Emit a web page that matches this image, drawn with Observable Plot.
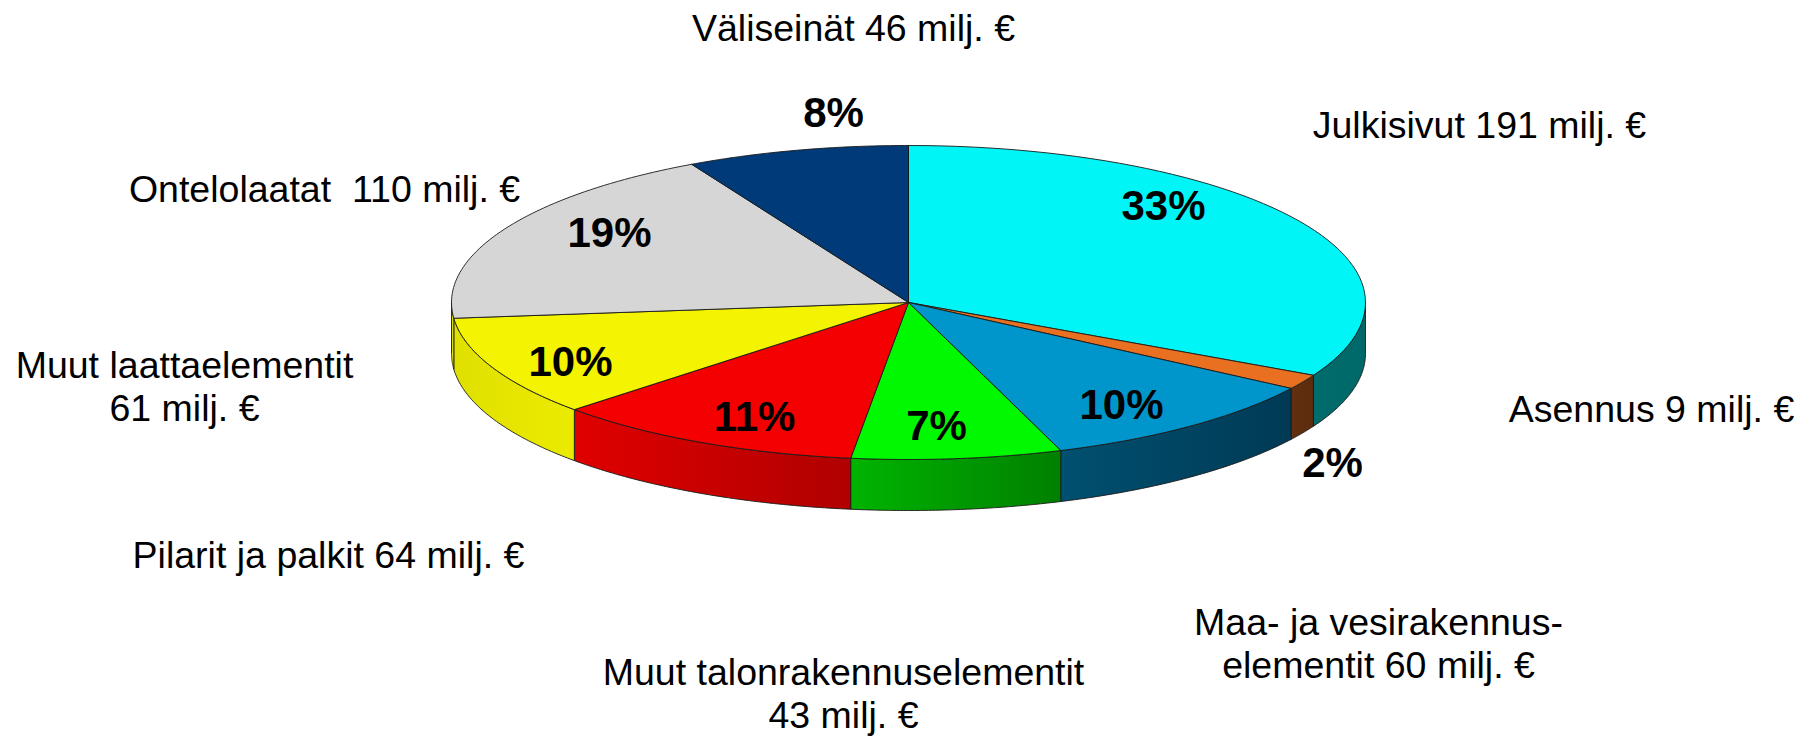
<!DOCTYPE html>
<html lang="fi">
<head>
<meta charset="utf-8">
<style>
html,body{margin:0;padding:0;background:#fff}
svg{display:block}
</style>
<script src="https://cdn.jsdelivr.net/npm/d3@7"></script>
<script src="https://cdn.jsdelivr.net/npm/@observablehq/plot@0.6"></script>
</head>
<body>
<div id="chart"></div>
<script>
// Data, clockwise from twelve o'clock; slice sizes read from the drawn sectors
const names = ["Julkisivut","Asennus","Maa- ja vesirakennus-elementit","Muut talonrakennuselementit","Pilarit ja palkit","Muut laattaelementit","Ontelolaatat","Väliseinät"];
const values = [191, 9, 60.7, 43.4, 64.5, 60.5, 109.5, 46];
const percents = ["33%","2%","10%","7%","11%","10%","19%","8%"];
const outerLabels = ["Julkisivut 191 milj. €","Asennus 9 milj. €","Maa- ja vesirakennus-\nelementit 60 milj. €","Muut talonrakennuselementit\n43 milj. €","Pilarit ja palkit 64 milj. €","Muut laattaelementit\n61 milj. €","Ontelolaatat  110 milj. €","Väliseinät 46 milj. €"];

// Styles
const topColors = ["#00f6f6","#e87020","#0096cc","#00f800","#f40000","#f4f400","#d6d6d6","#003a78"];
const sideLeft  = ["#006c6c","#622f10","#005070","#00b400","#e00000","#e0e000","#e0e000","#002050"];
const sideRight = ["#006868","#5c2c0e","#003a55","#008000","#b00000","#ebeb00","#e0e000","#002050"];

// Layout (page pixels)
const W = 1816, H = 736;
const cx = 908, cy = 302, rx = 457, ry = 157, depth = 51;
const outerPos = [[1479,126],[1651,410],[1378,645],[843,695],[328,556],[184,388],[324,190],[853,29]];
const percentPos = [[1163,206],[1332,463],[1121,405],[936,426],[754,417],[570,362],[609,233],[833,113]];

const total = d3.sum(values);
const cum = d3.cumsum(values);
const toRad = v => (v / total) * 2 * Math.PI;
const rim = (v, dz = 0) => ({x: cx + rx * Math.sin(toRad(v)), y: cy - ry * Math.cos(toRad(v)) + dz});
const arcRange = (a, b) => d3.range(0, 61).map(i => a + (b - a) * i / 60);

const marks = [];
// Side wall: only the front half of the disc (a quarter to three quarters of the total) shows
values.forEach((v, i) => {
  const a = Math.max(cum[i] - v, total / 4), b = Math.min(cum[i], total * 3 / 4);
  if (b <= a) return;
  const t = arcRange(a, b);
  const pts = [...t.map(u => rim(u)), ...t.reverse().map(u => rim(u, depth))];
  pts.push(pts[0]);
  marks.push(Plot.line(pts, {x: "x", y: "y", fill: `url(#side${i})`, stroke: "#1a1a1a", strokeWidth: 0.9, curve: "linear"}));
});
// Top face
values.forEach((v, i) => {
  const pts = [{x: cx, y: cy}, ...arcRange(cum[i] - v, cum[i]).map(u => rim(u)), {x: cx, y: cy}];
  marks.push(Plot.line(pts, {x: "x", y: "y", fill: topColors[i], stroke: "#1a1a1a", strokeWidth: 0.9, curve: "linear"}));
});
const font = "Liberation Sans, Arial, sans-serif";
marks.push(Plot.text(outerLabels, {
  x: (d, i) => outerPos[i][0], y: (d, i) => outerPos[i][1] - 3, text: d => d,
  fontFamily: font, fontSize: 37.5, lineHeight: 1.17, fill: "#000", textAnchor: "middle"
}));
marks.push(Plot.text(percents, {
  x: (d, i) => percentPos[i][0], y: (d, i) => percentPos[i][1], text: d => d,
  fontFamily: font, fontSize: 42, fontWeight: 700, fill: "#000", textAnchor: "middle"
}));

const chart = Plot.plot({
  width: W, height: H, margin: 0,
  x: {domain: [0, W], range: [0, W], axis: null},
  y: {domain: [0, H], range: [0, H], axis: null},
  marks
});
const defs = d3.select(chart).insert("defs", ":first-child");
values.forEach((v, i) => {
  const g = defs.append("linearGradient").attr("id", `side${i}`).attr("x1", 0).attr("x2", 1).attr("y1", 0).attr("y2", 0);
  g.append("stop").attr("offset", "0%").attr("stop-color", sideLeft[i]);
  g.append("stop").attr("offset", "100%").attr("stop-color", sideRight[i]);
});
document.getElementById("chart").append(chart);
</script>
</body>
</html>
